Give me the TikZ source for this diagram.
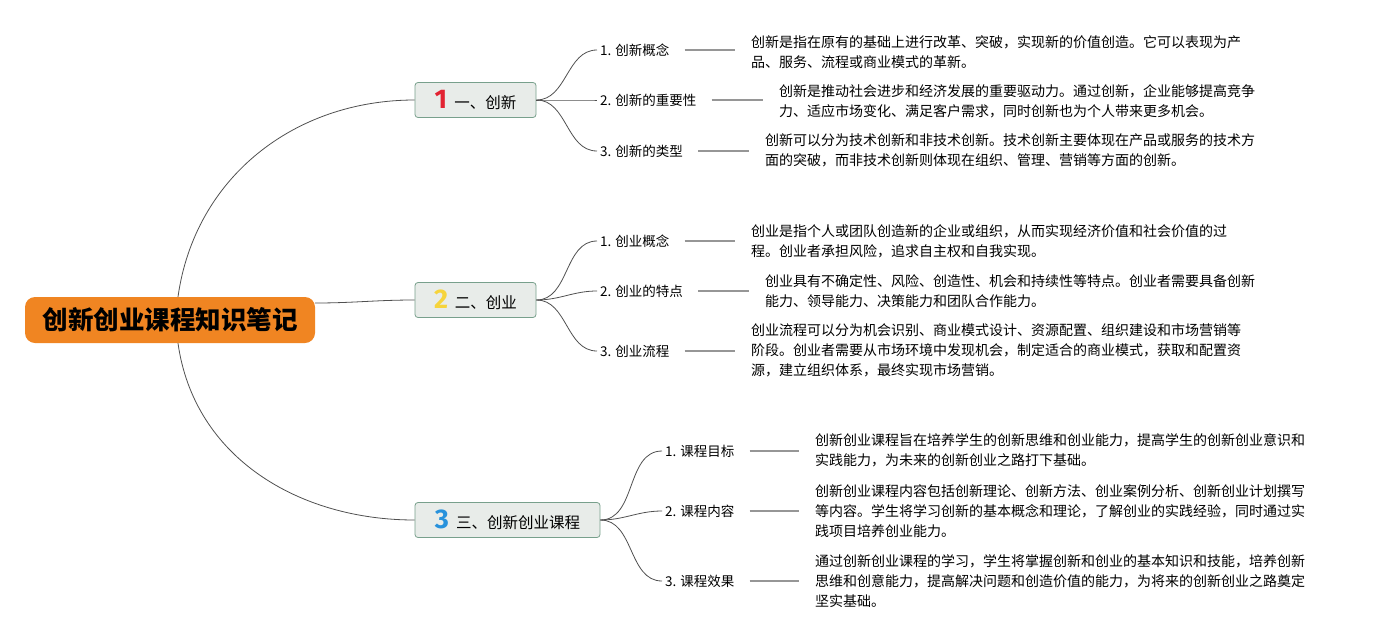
\documentclass[tikz,border=0pt]{standalone}
\usepackage{fontspec}
\setmainfont{Noto Sans CJK SC}
\newfontfamily\numfont{Fira Sans}
\definecolor{rootorange}{RGB}{240,133,34}
\definecolor{boxfill}{RGB}{232,236,233}
\definecolor{boxline}{RGB}{120,160,140}
\definecolor{numred}{RGB}{226,35,50}
\definecolor{numyellow}{RGB}{246,212,60}
\definecolor{numblue}{RGB}{40,146,220}
\definecolor{curvegray}{RGB}{80,80,80}
\definecolor{linkgray}{RGB}{150,150,150}
\newcommand{\bignum}[2]{{\numfont\fontsize{27}{27}\selectfont\bfseries\color{#1}#2}\hspace{7pt}}
\tikzset{
  rootbox/.style={draw=none, fill=rootorange, rounded corners=10pt, minimum width=290pt, minimum height=46pt,
    font=\fontsize{25.5}{25.5}\selectfont\bfseries},
  branchbox/.style={draw=boxline, fill=boxfill, line width=0.8pt, rounded corners=3pt, minimum height=35pt,
    inner sep=0pt, font=\fontsize{15.5}{15.5}\selectfont},
  topic/.style={anchor=west, inner sep=0pt, font=\fontsize{13.5}{16}\selectfont},
  note/.style={anchor=west, inner sep=0pt, align=left, font=\fontsize{14}{20}\selectfont},
  curve/.style={draw=curvegray, line width=0.8pt},
  link/.style={draw=linkgray, line width=1.2pt, shorten <=15pt, shorten >=16pt}
}
\begin{document}
\begin{tikzpicture}[x=1pt, y=1pt]
  \useasboundingbox (0,0) rectangle (1375,-640);

  \node[rootbox] (root) at (170,-320) {创新创业课程知识笔记};

  \node[branchbox, minimum width=121pt] (b1) at (475.5,-100) {\bignum{numred}{1}一、创新};
  \node[branchbox, minimum width=121pt] (b2) at (475.5,-300) {\bignum{numyellow}{2}二、创业};
  \node[branchbox, minimum width=185pt] (b3) at (507.5,-520) {\bignum{numblue}{3}三、创新创业课程};

  \draw[curve] ([xshift=8pt]root.north) to[out=82,in=180] (b1.west);
  \draw[curve] ([yshift=17pt]root.east) to[out=0,in=180] (b2.west);
  \draw[curve] ([xshift=8pt]root.south) to[out=-82,in=180] (b3.west);

  % 一、创新
  \node[topic] (t11) at (600,-50) {1. 创新概念};
  \node[topic] (t12) at (600,-100) {2. 创新的重要性};
  \node[topic] (t13) at (600,-151) {3. 创新的类型};
  \node[note] (n11) at (751,-52) {创新是指在原有的基础上进行改革、突破，实现新的价值创造。它可以表现为产\\品、服务、流程或商业模式的革新。};
  \node[note] (n12) at (779,-101) {创新是推动社会进步和经济发展的重要驱动力。通过创新，企业能够提高竞争\\力、适应市场变化、满足客户需求，同时创新也为个人带来更多机会。};
  \node[note] (n13) at (765,-150.5) {创新可以分为技术创新和非技术创新。技术创新主要体现在产品或服务的技术方\\面的突破，而非技术创新则体现在组织、管理、营销等方面的创新。};

  % 二、创业
  \node[topic] (t21) at (600,-241) {1. 创业概念};
  \node[topic] (t22) at (600,-291) {2. 创业的特点};
  \node[topic] (t23) at (600,-351) {3. 创业流程};
  \node[note] (n21) at (751,-241) {创业是指个人或团队创造新的企业或组织，从而实现经济价值和社会价值的过\\程。创业者承担风险，追求自主权和自我实现。};
  \node[note] (n22) at (765,-291) {创业具有不确定性、风险、创造性、机会和持续性等特点。创业者需要具备创新\\能力、领导能力、决策能力和团队合作能力。};
  \node[note] (n23) at (751,-350) {创业流程可以分为机会识别、商业模式设计、资源配置、组织建设和市场营销等\\阶段。创业者需要从市场环境中发现机会，制定适合的商业模式，获取和配置资\\源，建立组织体系，最终实现市场营销。};

  % 三、创新创业课程
  \node[topic] (t31) at (665,-451) {1. 课程目标};
  \node[topic] (t32) at (665,-511) {2. 课程内容};
  \node[topic] (t33) at (665,-581) {3. 课程效果};
  \node[note] (n31) at (815,-450) {创新创业课程旨在培养学生的创新思维和创业能力，提高学生的创新创业意识和\\实践能力，为未来的创新创业之路打下基础。};
  \node[note] (n32) at (815,-511) {创新创业课程内容包括创新理论、创新方法、创业案例分析、创新创业计划撰写\\等内容。学生将学习创新的基本概念和理论，了解创业的实践经验，同时通过实\\践项目培养创业能力。};
  \node[note] (n33) at (815,-581) {通过创新创业课程的学习，学生将掌握创新和创业的基本知识和技能，培养创新\\思维和创意能力，提高解决问题和创造价值的能力，为将来的创新创业之路奠定\\坚实基础。};

  \foreach \b in {1,2,3} {
    \foreach \i in {1,2,3} {
      \draw[curve] (b\b.east) to[out=0,in=180] ([xshift=-3pt]t\b\i.west);
      \draw[link] (t\b\i.east) -- (t\b\i.east -| n\b\i.west);
    }
  }
\end{tikzpicture}
\end{document}
